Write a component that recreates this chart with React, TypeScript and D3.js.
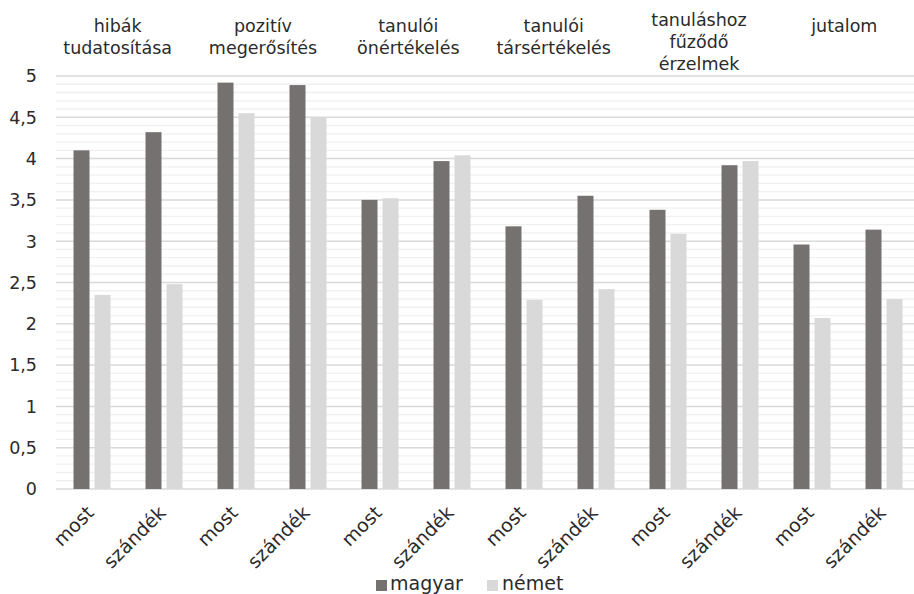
import React from "react";
import * as d3 from "d3";

const groups = [
  ["hibák", "tudatosítása"],
  ["pozitív", "megerősítés"],
  ["tanulói", "önértékelés"],
  ["tanulói", "társértékelés"],
  ["tanuláshoz", "fűződő", "érzelmek"],
  ["jutalom"],
];
const subLabels = ["most", "szándék"];
const magyar = [4.1, 4.32, 4.92, 4.89, 3.5, 3.97, 3.18, 3.55, 3.38, 3.92, 2.96, 3.14];
const nemet = [2.35, 2.48, 4.55, 4.5, 3.52, 4.04, 2.29, 2.42, 3.09, 3.97, 2.07, 2.3];
const yTicks = [0, 0.5, 1, 1.5, 2, 2.5, 3, 3.5, 4, 4.5, 5];
const seriesNames = ["magyar", "német"];
const colors = ["#767171", "#d9d9d9"];

const W = 914;
const H = 594;
const FONT = "'DejaVu Sans', sans-serif";
const TEXT = "#2b2b2b";

export default function App() {
  const cats = d3.range(magyar.length);
  const x = d3.scaleBand<number>().domain(cats).range([56, 920]).paddingInner(0).paddingOuter(0);
  const y = d3.scaleLinear().domain([0, 5]).range([489, 76]);
  const gx = d3.scaleBand<number>().domain(d3.range(groups.length)).range([45, 917]);
  const barW = 16;
  const gap = 5;
  const minor = d3.range(0, 50).map((i) => i / 10).filter((v) => Math.round(v * 10) % 5 !== 0);

  return (
    <svg width={W} height={H} style={{ position: "absolute", left: 0, top: 0, background: "#fff" }} fontFamily={FONT}>
      <rect width={W} height={H} fill="#fff" />
      {minor.map((v) => (
        <line key={"m" + v} x1={56} x2={920} y1={y(v)} y2={y(v)} stroke="#f0f0f0" strokeWidth={1.3} />
      ))}
      {yTicks.map((v) => (
        <line key={"g" + v} x1={56} x2={920} y1={y(v)} y2={y(v)} stroke="#d9d9d9" strokeWidth={1.5} />
      ))}
      {yTicks.map((v) => (
        <text key={"t" + v} x={37} y={y(v)} dy="0.36em" textAnchor="end" fontSize={17.5} fill={TEXT}>
          {String(v).replace(".", ",")}
        </text>
      ))}
      {cats.map((i) => {
        const cx = (x(i) as number) + x.bandwidth() / 2;
        const total = barW * 2 + gap;
        const x0 = cx - total / 2;
        return (
          <g key={"b" + i}>
            <rect x={x0} y={y(magyar[i])} width={barW} height={y(0) - y(magyar[i])} fill={colors[0]} />
            <rect x={x0 + barW + gap} y={y(nemet[i])} width={barW} height={y(0) - y(nemet[i])} fill={colors[1]} />
          </g>
        );
      })}
      {cats.map((i) => {
        const cx = (x(i) as number) + x.bandwidth() / 2 + 3;
        return (
          <text
            key={"xl" + i}
            transform={`translate(${cx},${514}) rotate(-45)`}
            textAnchor="end"
            fontSize={19}
            fill={TEXT}
          >
            {subLabels[i % 2]}
          </text>
        );
      })}
      {groups.map((lines, gi) => {
        const cx = (gx(gi) as number) + gx.bandwidth() / 2;
        const start = lines.length > 2 ? 26 : 32;
        return (
          <text key={"h" + gi} textAnchor="middle" fontSize={17.5} fill={TEXT}>
            {lines.map((ln, li) => (
              <tspan key={li} x={cx} y={start + li * 22}>
                {ln}
              </tspan>
            ))}
          </text>
        );
      })}
      <g>
        <rect x={376} y={580} width={11} height={11} fill={colors[0]} />
        <text x={390} y={590} fontSize={19} fill={TEXT}>{seriesNames[0]}</text>
        <rect x={487} y={580} width={11} height={11} fill={colors[1]} />
        <text x={502} y={590} fontSize={19} fill={TEXT}>{seriesNames[1]}</text>
      </g>
    </svg>
  );
}
